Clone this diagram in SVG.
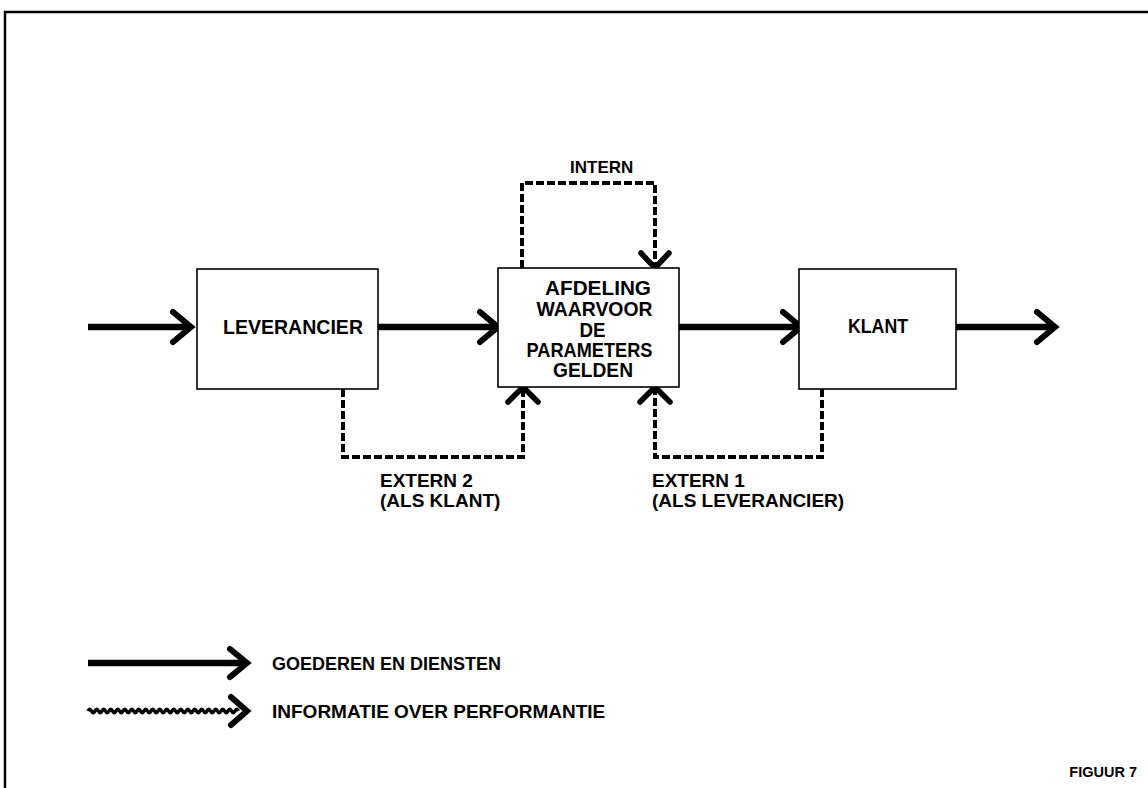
<svg xmlns="http://www.w3.org/2000/svg" width="1148" height="788" viewBox="0 0 1148 788">
<style>
.frame{fill:none;stroke:#000;stroke-width:2.5}
.box{fill:#fff;stroke:#000;stroke-width:1.6}
.flow{fill:none;stroke:#000;stroke-width:6.5}
.head{fill:none;stroke:#000;stroke-width:6;stroke-linecap:round;stroke-linejoin:miter}
.info{fill:none;stroke:#000;stroke-width:4;stroke-dasharray:8 3}
.dhead{fill:none;stroke:#000;stroke-width:5.5;stroke-linecap:round;stroke-linejoin:miter}
.wave{fill:none;stroke:#000;stroke-width:3.5}
text{font-family:"Liberation Sans",Arial,sans-serif;font-weight:bold;font-size:20px;fill:#000}
.c{text-anchor:middle}
</style>
<polyline class="frame" points="5,788 5,12 1148,12"/>
<g id="connectors">
  <line class="flow" x1="88" y1="327" x2="190" y2="327"/>
  <polyline class="head" points="173,312 191,327 173,342"/>
  <line class="flow" x1="378" y1="327" x2="496" y2="327"/>
  <polyline class="head" points="480,312 498,327 480,342"/>
  <line class="flow" x1="679" y1="327" x2="798" y2="327"/>
  <polyline class="head" points="783,312 801,327 783,342"/>
  <line class="flow" x1="956" y1="327" x2="1053" y2="327"/>
  <polyline class="head" points="1037,312 1055,327 1037,342"/>
  <polyline class="info" points="343,389 343,457 523,457 523,390"/>
  <polyline class="dhead" points="508,402 523,387 538,402"/>
  <polyline class="info" points="822,389 822,457 655,457 655,390"/>
  <polyline class="dhead" points="640,402 655,387 670,402"/>
  <polyline class="info" points="522,268 522,183 655,183 655,265"/>
  <polyline class="dhead" points="641,253 655,268 669,253"/>
</g>
<g id="leverancier">
  <rect class="box" x="197" y="269" width="181" height="120"/>
  <text class="c" x="293" y="334" textLength="140" lengthAdjust="spacingAndGlyphs">LEVERANCIER</text>
</g>
<g id="afdeling">
  <rect class="box" x="498" y="268" width="181" height="119"/>
  <text class="c" x="598" y="295" textLength="106" lengthAdjust="spacingAndGlyphs">AFDELING</text>
  <text class="c" x="594.5" y="316" textLength="116" lengthAdjust="spacingAndGlyphs">WAARVOOR</text>
  <text class="c" x="592.5" y="337" textLength="26" lengthAdjust="spacingAndGlyphs">DE</text>
  <text class="c" x="589.5" y="357" textLength="126" lengthAdjust="spacingAndGlyphs">PARAMETERS</text>
  <text class="c" x="593" y="377" textLength="80" lengthAdjust="spacingAndGlyphs">GELDEN</text>
</g>
<g id="klant">
  <rect class="box" x="799" y="269" width="157" height="120"/>
  <text class="c" x="878" y="333" textLength="60" lengthAdjust="spacingAndGlyphs">KLANT</text>
</g>
<g id="labels">
  <text x="570" y="173" style="font-size:17px">INTERN</text>
  <text x="380" y="487" style="font-size:19px">EXTERN 2</text>
  <text x="380" y="507" style="font-size:19px">(ALS KLANT)</text>
  <text x="652" y="487" style="font-size:19px">EXTERN 1</text>
  <text x="652" y="507" style="font-size:19px">(ALS LEVERANCIER)</text>
</g>
<g id="legend">
  <line class="flow" x1="88" y1="663" x2="244" y2="663"/>
  <polyline class="head" points="230,649 247,663 230,677"/>
  <text x="272" y="670" style="font-size:18px">GOEDEREN EN DIENSTEN</text>
  <path class="wave" d="M88,711 q1.75,-3.5 3.5,0 t3.5,0 t3.5,0 t3.5,0 t3.5,0 t3.5,0 t3.5,0 t3.5,0 t3.5,0 t3.5,0 t3.5,0 t3.5,0 t3.5,0 t3.5,0 t3.5,0 t3.5,0 t3.5,0 t3.5,0 t3.5,0 t3.5,0 t3.5,0 t3.5,0 t3.5,0 t3.5,0 t3.5,0 t3.5,0 t3.5,0 t3.5,0 t3.5,0 t3.5,0 t3.5,0 t3.5,0 t3.5,0 t3.5,0 t3.5,0 t3.5,0 t3.5,0 t3.5,0 t3.5,0 t3.5,0 t3.5,0 t3.5,0 t3.5,0"/>
  <polyline class="head" points="231,697 247,711 231,725"/>
  <text x="272" y="718" style="font-size:19px">INFORMATIE OVER PERFORMANTIE</text>
</g>
<text x="1137" y="777" style="font-size:14.5px;text-anchor:end">FIGUUR 7</text>
</svg>
